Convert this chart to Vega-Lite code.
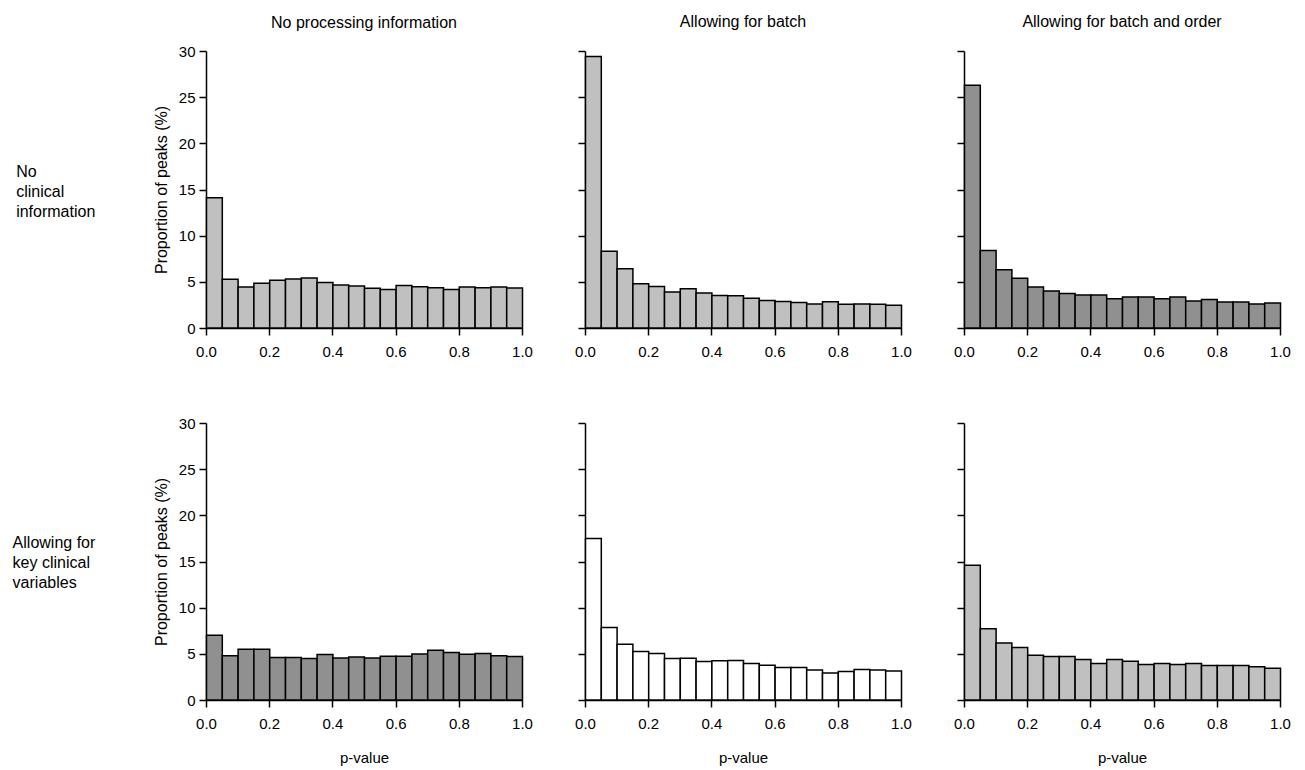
{
  "$schema": "https://vega.github.io/schema/vega-lite/v6.json",
  "background": "white",
  "padding": {"left": 12, "top": 14, "right": 6, "bottom": 2},
  "data": {"values": [
    {"p":"A","lo":0.00,"hi":0.05,"v":14.1},{"p":"A","lo":0.05,"hi":0.10,"v":5.28},{"p":"A","lo":0.10,"hi":0.15,"v":4.45},{"p":"A","lo":0.15,"hi":0.20,"v":4.84},{"p":"A","lo":0.20,"hi":0.25,"v":5.17},{"p":"A","lo":0.25,"hi":0.30,"v":5.31},{"p":"A","lo":0.30,"hi":0.35,"v":5.42},{"p":"A","lo":0.35,"hi":0.40,"v":4.92},{"p":"A","lo":0.40,"hi":0.45,"v":4.66},{"p":"A","lo":0.45,"hi":0.50,"v":4.55},{"p":"A","lo":0.50,"hi":0.55,"v":4.30},{"p":"A","lo":0.55,"hi":0.60,"v":4.16},{"p":"A","lo":0.60,"hi":0.65,"v":4.59},{"p":"A","lo":0.65,"hi":0.70,"v":4.48},{"p":"A","lo":0.70,"hi":0.75,"v":4.37},{"p":"A","lo":0.75,"hi":0.80,"v":4.16},{"p":"A","lo":0.80,"hi":0.85,"v":4.45},{"p":"A","lo":0.85,"hi":0.90,"v":4.37},{"p":"A","lo":0.90,"hi":0.95,"v":4.45},{"p":"A","lo":0.95,"hi":1.00,"v":4.34},
    {"p":"B","lo":0.00,"hi":0.05,"v":29.4},{"p":"B","lo":0.05,"hi":0.10,"v":8.3},{"p":"B","lo":0.10,"hi":0.15,"v":6.41},{"p":"B","lo":0.15,"hi":0.20,"v":4.78},{"p":"B","lo":0.20,"hi":0.25,"v":4.49},{"p":"B","lo":0.25,"hi":0.30,"v":3.91},{"p":"B","lo":0.30,"hi":0.35,"v":4.24},{"p":"B","lo":0.35,"hi":0.40,"v":3.80},{"p":"B","lo":0.40,"hi":0.45,"v":3.51},{"p":"B","lo":0.45,"hi":0.50,"v":3.48},{"p":"B","lo":0.50,"hi":0.55,"v":3.22},{"p":"B","lo":0.55,"hi":0.60,"v":2.97},{"p":"B","lo":0.60,"hi":0.65,"v":2.86},{"p":"B","lo":0.65,"hi":0.70,"v":2.75},{"p":"B","lo":0.70,"hi":0.75,"v":2.61},{"p":"B","lo":0.75,"hi":0.80,"v":2.83},{"p":"B","lo":0.80,"hi":0.85,"v":2.57},{"p":"B","lo":0.85,"hi":0.90,"v":2.61},{"p":"B","lo":0.90,"hi":0.95,"v":2.57},{"p":"B","lo":0.95,"hi":1.00,"v":2.46},
    {"p":"C","lo":0.00,"hi":0.05,"v":26.3},{"p":"C","lo":0.05,"hi":0.10,"v":8.40},{"p":"C","lo":0.10,"hi":0.15,"v":6.30},{"p":"C","lo":0.15,"hi":0.20,"v":5.39},{"p":"C","lo":0.20,"hi":0.25,"v":4.45},{"p":"C","lo":0.25,"hi":0.30,"v":4.02},{"p":"C","lo":0.30,"hi":0.35,"v":3.73},{"p":"C","lo":0.35,"hi":0.40,"v":3.58},{"p":"C","lo":0.40,"hi":0.45,"v":3.58},{"p":"C","lo":0.45,"hi":0.50,"v":3.18},{"p":"C","lo":0.50,"hi":0.55,"v":3.37},{"p":"C","lo":0.55,"hi":0.60,"v":3.37},{"p":"C","lo":0.60,"hi":0.65,"v":3.18},{"p":"C","lo":0.65,"hi":0.70,"v":3.37},{"p":"C","lo":0.70,"hi":0.75,"v":2.93},{"p":"C","lo":0.75,"hi":0.80,"v":3.08},{"p":"C","lo":0.80,"hi":0.85,"v":2.82},{"p":"C","lo":0.85,"hi":0.90,"v":2.82},{"p":"C","lo":0.90,"hi":0.95,"v":2.61},{"p":"C","lo":0.95,"hi":1.00,"v":2.71},
    {"p":"D","lo":0.00,"hi":0.05,"v":7.02},{"p":"D","lo":0.05,"hi":0.10,"v":4.78},{"p":"D","lo":0.10,"hi":0.15,"v":5.50},{"p":"D","lo":0.15,"hi":0.20,"v":5.50},{"p":"D","lo":0.20,"hi":0.25,"v":4.60},{"p":"D","lo":0.25,"hi":0.30,"v":4.60},{"p":"D","lo":0.30,"hi":0.35,"v":4.49},{"p":"D","lo":0.35,"hi":0.40,"v":4.92},{"p":"D","lo":0.40,"hi":0.45,"v":4.56},{"p":"D","lo":0.45,"hi":0.50,"v":4.67},{"p":"D","lo":0.50,"hi":0.55,"v":4.56},{"p":"D","lo":0.55,"hi":0.60,"v":4.74},{"p":"D","lo":0.60,"hi":0.65,"v":4.74},{"p":"D","lo":0.65,"hi":0.70,"v":4.99},{"p":"D","lo":0.70,"hi":0.75,"v":5.39},{"p":"D","lo":0.75,"hi":0.80,"v":5.14},{"p":"D","lo":0.80,"hi":0.85,"v":4.96},{"p":"D","lo":0.85,"hi":0.90,"v":5.03},{"p":"D","lo":0.90,"hi":0.95,"v":4.78},{"p":"D","lo":0.95,"hi":1.00,"v":4.71},
    {"p":"E","lo":0.00,"hi":0.05,"v":17.5},{"p":"E","lo":0.05,"hi":0.10,"v":7.86},{"p":"E","lo":0.10,"hi":0.15,"v":6.05},{"p":"E","lo":0.15,"hi":0.20,"v":5.25},{"p":"E","lo":0.20,"hi":0.25,"v":5.04},{"p":"E","lo":0.25,"hi":0.30,"v":4.49},{"p":"E","lo":0.30,"hi":0.35,"v":4.53},{"p":"E","lo":0.35,"hi":0.40,"v":4.17},{"p":"E","lo":0.40,"hi":0.45,"v":4.24},{"p":"E","lo":0.45,"hi":0.50,"v":4.28},{"p":"E","lo":0.50,"hi":0.55,"v":3.95},{"p":"E","lo":0.55,"hi":0.60,"v":3.77},{"p":"E","lo":0.60,"hi":0.65,"v":3.51},{"p":"E","lo":0.65,"hi":0.70,"v":3.51},{"p":"E","lo":0.70,"hi":0.75,"v":3.26},{"p":"E","lo":0.75,"hi":0.80,"v":2.93},{"p":"E","lo":0.80,"hi":0.85,"v":3.08},{"p":"E","lo":0.85,"hi":0.90,"v":3.30},{"p":"E","lo":0.90,"hi":0.95,"v":3.26},{"p":"E","lo":0.95,"hi":1.00,"v":3.15},
    {"p":"F","lo":0.00,"hi":0.05,"v":14.6},{"p":"F","lo":0.05,"hi":0.10,"v":7.72},{"p":"F","lo":0.10,"hi":0.15,"v":6.16},{"p":"F","lo":0.15,"hi":0.20,"v":5.69},{"p":"F","lo":0.20,"hi":0.25,"v":4.86},{"p":"F","lo":0.25,"hi":0.30,"v":4.71},{"p":"F","lo":0.30,"hi":0.35,"v":4.71},{"p":"F","lo":0.35,"hi":0.40,"v":4.38},{"p":"F","lo":0.40,"hi":0.45,"v":3.95},{"p":"F","lo":0.45,"hi":0.50,"v":4.38},{"p":"F","lo":0.50,"hi":0.55,"v":4.20},{"p":"F","lo":0.55,"hi":0.60,"v":3.84},{"p":"F","lo":0.60,"hi":0.65,"v":3.95},{"p":"F","lo":0.65,"hi":0.70,"v":3.84},{"p":"F","lo":0.70,"hi":0.75,"v":3.95},{"p":"F","lo":0.75,"hi":0.80,"v":3.73},{"p":"F","lo":0.80,"hi":0.85,"v":3.73},{"p":"F","lo":0.85,"hi":0.90,"v":3.73},{"p":"F","lo":0.90,"hi":0.95,"v":3.59},{"p":"F","lo":0.95,"hi":1.00,"v":3.44}
  ]},
  "spacing": 57,
  "vconcat": [
    {
      "title": {"text": ["No", "clinical", "information"], "orient": "left", "angle": 0, "align": "left", "baseline": "middle", "anchor": "middle", "fontSize": 16, "lineHeight": 20, "offset": 58, "dy": -15},
      "bounds": "flush",
      "spacing": 63,
      "hconcat": [
        {
          "width": 316, "height": 277,
          "title": {"text": "No processing information", "offset": 13},
          "transform": [{"filter": "datum.p === 'A'"}],
          "mark": {"type": "bar", "fill": "#c0c0c0", "stroke": "black", "strokeWidth": 1.5, "binSpacing": 0},
          "encoding": {
            "x": {"field": "lo", "type": "quantitative", "bin": "binned", "scale": {"domain": [0, 1]}, "axis": {"values": [0, 0.2, 0.4, 0.6, 0.8, 1], "format": ".1f", "title": null}},
            "x2": {"field": "hi"},
            "y": {"field": "v", "type": "quantitative", "scale": {"domain": [0, 30]}, "axis": {"values": [0, 5, 10, 15, 20, 25, 30], "title": "Proportion of peaks (%)"}}
          }
        },
        {
          "width": 316, "height": 277,
          "title": {"text": "Allowing for batch", "offset": 20},
          "transform": [{"filter": "datum.p === 'B'"}],
          "mark": {"type": "bar", "fill": "#c0c0c0", "stroke": "black", "strokeWidth": 1.5, "binSpacing": 0},
          "encoding": {
            "x": {"field": "lo", "type": "quantitative", "bin": "binned", "scale": {"domain": [0, 1]}, "axis": {"values": [0, 0.2, 0.4, 0.6, 0.8, 1], "format": ".1f", "title": null}},
            "x2": {"field": "hi"},
            "y": {"field": "v", "type": "quantitative", "scale": {"domain": [0, 30]}, "axis": {"values": [0, 5, 10, 15, 20, 25, 30], "labels": false, "title": null}}
          }
        },
        {
          "width": 316, "height": 277,
          "title": {"text": "Allowing for batch and order", "offset": 20},
          "transform": [{"filter": "datum.p === 'C'"}],
          "mark": {"type": "bar", "fill": "#909090", "stroke": "black", "strokeWidth": 1.5, "binSpacing": 0},
          "encoding": {
            "x": {"field": "lo", "type": "quantitative", "bin": "binned", "scale": {"domain": [0, 1]}, "axis": {"values": [0, 0.2, 0.4, 0.6, 0.8, 1], "format": ".1f", "title": null}},
            "x2": {"field": "hi"},
            "y": {"field": "v", "type": "quantitative", "scale": {"domain": [0, 30]}, "axis": {"values": [0, 5, 10, 15, 20, 25, 30], "labels": false, "title": null}}
          }
        }
      ]
    },
    {
      "title": {"text": ["Allowing for", "key clinical", "variables"], "orient": "left", "angle": 0, "align": "left", "baseline": "middle", "anchor": "middle", "fontSize": 16, "lineHeight": 20, "offset": 58, "dy": -48},
      "bounds": "flush",
      "spacing": 63,
      "hconcat": [
        {
          "width": 316, "height": 277,
          "transform": [{"filter": "datum.p === 'D'"}],
          "mark": {"type": "bar", "fill": "#909090", "stroke": "black", "strokeWidth": 1.5, "binSpacing": 0},
          "encoding": {
            "x": {"field": "lo", "type": "quantitative", "bin": "binned", "scale": {"domain": [0, 1]}, "axis": {"values": [0, 0.2, 0.4, 0.6, 0.8, 1], "format": ".1f", "title": "p-value"}},
            "x2": {"field": "hi"},
            "y": {"field": "v", "type": "quantitative", "scale": {"domain": [0, 30]}, "axis": {"values": [0, 5, 10, 15, 20, 25, 30], "title": "Proportion of peaks (%)"}}
          }
        },
        {
          "width": 316, "height": 277,
          "transform": [{"filter": "datum.p === 'E'"}],
          "mark": {"type": "bar", "fill": "white", "stroke": "black", "strokeWidth": 1.5, "binSpacing": 0},
          "encoding": {
            "x": {"field": "lo", "type": "quantitative", "bin": "binned", "scale": {"domain": [0, 1]}, "axis": {"values": [0, 0.2, 0.4, 0.6, 0.8, 1], "format": ".1f", "title": "p-value"}},
            "x2": {"field": "hi"},
            "y": {"field": "v", "type": "quantitative", "scale": {"domain": [0, 30]}, "axis": {"values": [0, 5, 10, 15, 20, 25, 30], "labels": false, "title": null}}
          }
        },
        {
          "width": 316, "height": 277,
          "transform": [{"filter": "datum.p === 'F'"}],
          "mark": {"type": "bar", "fill": "#c0c0c0", "stroke": "black", "strokeWidth": 1.5, "binSpacing": 0},
          "encoding": {
            "x": {"field": "lo", "type": "quantitative", "bin": "binned", "scale": {"domain": [0, 1]}, "axis": {"values": [0, 0.2, 0.4, 0.6, 0.8, 1], "format": ".1f", "title": "p-value"}},
            "x2": {"field": "hi"},
            "y": {"field": "v", "type": "quantitative", "scale": {"domain": [0, 30]}, "axis": {"values": [0, 5, 10, 15, 20, 25, 30], "labels": false, "title": null}}
          }
        }
      ]
    }
  ],
  "config": {
    "font": "Liberation Sans",
    "view": {"stroke": null},
    "axis": {
      "grid": false,
      "domainColor": "black", "domainWidth": 1.5,
      "tickColor": "black", "tickWidth": 1.5, "tickSize": 7,
      "labelColor": "black", "labelFontSize": 15, "labelPadding": 4,
      "titleColor": "black", "titleFontSize": 15, "titleFontWeight": "normal"
    },
    "axisX": {"labelPadding": 9, "titlePadding": 19, "labelFlush": false},
    "axisY": {"titlePadding": 9, "titleFontSize": 16},
    "title": {"fontSize": 16, "fontWeight": "normal", "color": "black", "anchor": "middle"}
  }
}
